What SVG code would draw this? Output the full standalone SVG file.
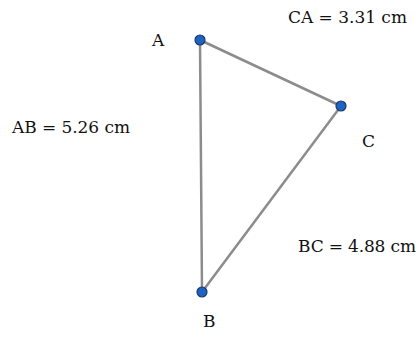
<svg xmlns="http://www.w3.org/2000/svg" width="419" height="341" viewBox="0 0 419 341">
<style>
.edge{stroke:#8c8c8c;stroke-width:2.5;fill:none;stroke-linecap:round}
.pt{fill:#1e63c4;stroke:#1a3a66;stroke-width:1.2}
.lbl{font-family:"DejaVu Serif","Liberation Serif",serif;font-size:17px;fill:#111}
</style>
<rect width="419" height="341" fill="#fff"/>
<g id="edges">
<line class="edge" x1="200" y1="40" x2="202" y2="292"/>
<line class="edge" x1="200" y1="40" x2="341" y2="106"/>
<line class="edge" x1="341" y1="106" x2="202" y2="292"/>
</g>
<g id="A"><circle class="pt" cx="200" cy="40" r="5"/><text class="lbl" x="152" y="46">A</text></g>
<g id="C"><circle class="pt" cx="341" cy="106" r="5"/><text class="lbl" x="362" y="147">C</text></g>
<g id="B"><circle class="pt" cx="202" cy="292" r="5"/><text class="lbl" x="203" y="327">B</text></g>
<text class="lbl" x="288" y="23" textLength="119">CA = 3.31 cm</text>
<text class="lbl" x="12" y="133" textLength="118">AB = 5.26 cm</text>
<text class="lbl" x="298" y="252" textLength="118">BC = 4.88 cm</text>
</svg>
